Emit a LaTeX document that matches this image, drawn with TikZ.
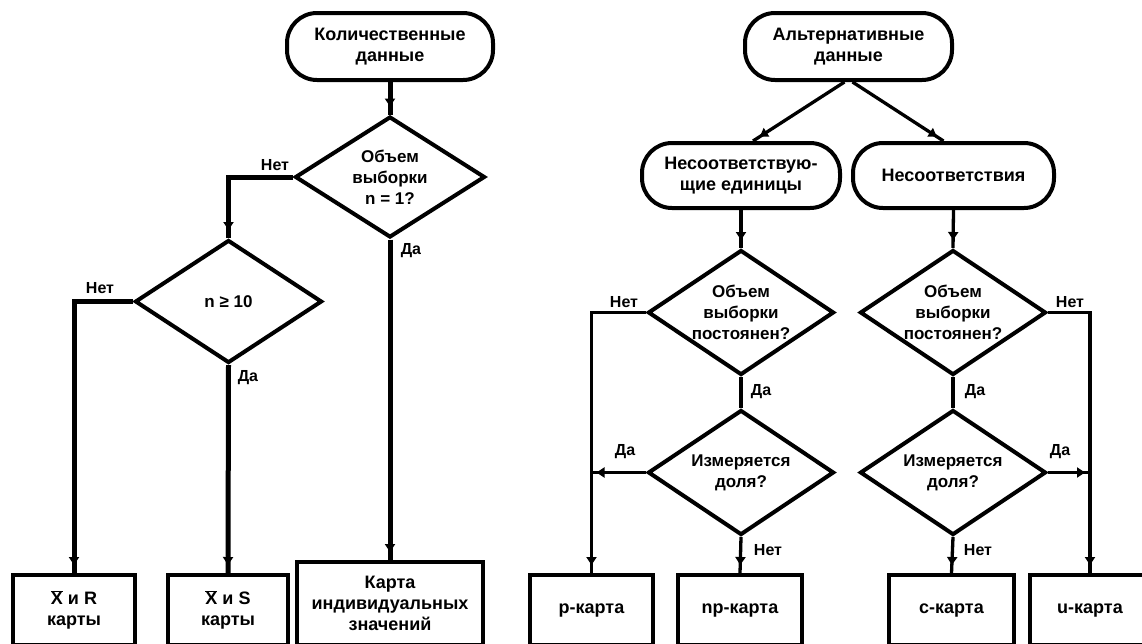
\documentclass[tikz,border=0pt]{standalone}
\usepackage{fontspec}
\setmainfont{Liberation Sans}
\usetikzlibrary{shapes.geometric,arrows.meta,decorations.markings}
\begin{document}
\begin{tikzpicture}[x=1pt,y=-1pt,
  every node/.style={font=\bfseries\fontsize{18}{21}\selectfont, align=center, inner sep=0pt},
  term/.style={draw, line width=4pt, rounded corners=30pt},
  dec/.style={draw, diamond, aspect=1.5, line width=4pt, inner sep=-6pt, font=\bfseries\fontsize{17}{21}\selectfont},
  res/.style={draw, rectangle, line width=4pt},
  lbl/.style={font=\bfseries\fontsize{16}{18}\selectfont},
  lconn/.style={line width=5pt},
  rconn/.style={line width=3.3pt},
  arr/.style={postaction={decorate}, decoration={markings, mark=at position -8pt with {\arrow{Triangle[length=8pt,width=10pt]}}}},
  arrj/.style={postaction={decorate}, decoration={markings, mark=at position -5pt with {\arrow{Triangle[length=8pt,width=10pt]}}}}
]
\useasboundingbox (0,0) rectangle (1142,643);
\clip (0,0) rectangle (1142,643);
\fill[white] (0,0) rectangle (1142,643);

% left part
\node[term, minimum width=206pt, minimum height=67pt] (kol) at (390,46.5) {Количественные\\данные};
\node[dec, minimum width=190pt, minimum height=121pt] (d1) at (390,177) {Объем\\выборки\\n = 1?};
\node[dec, minimum width=187pt, minimum height=123pt] (d2) at (228.5,301.5) {n ≥ 10};
\node[res, minimum width=122pt, minimum height=70pt] (b1) at (74,610) {$\overline{\hbox{X}}$ и R\\карты};
\node[res, minimum width=120pt, minimum height=70pt] (b2) at (228,610) {$\overline{\hbox{X}}$ и S\\карты};
\node[res, minimum width=186pt, minimum height=83pt] (b3) at (390,603.5) {Карта\\индивидуальных\\значений};

\draw[lconn, arr] (kol.south) -- (d1.north);
\draw[lconn, arr] (d1.west) -| (d2.north);
\draw[lconn, arr] (d2.west) -| (b1.north);
\draw[lconn, arr] (d2.south) -- (b2.north);
\draw[lconn, arr] (d1.south) -- (b3.north);

\node[lbl] (ln1) at (275,165) {Нет};
\node[lbl] (ln2) at (100,288) {Нет};
\node[lbl] (ly1) at (411,251) {Да};
\node[lbl] (ly2) at (248,378) {Да};

% right part
\node[term, minimum width=207pt, minimum height=67pt] (alt) at (848.5,46.5) {Альтернативные\\данные};
\node[term, minimum width=198pt, minimum height=65pt] (ch1) at (741,175.5) {Несоответствую-\\щие единицы};
\node[term, minimum width=201pt, minimum height=65pt] (ch2) at (953.5,175.5) {Несоответствия};
\node[dec, minimum width=186pt, minimum height=125pt] (d3) at (741,312.5) {Объем\\выборки\\постоянен?};
\node[dec, minimum width=186pt, minimum height=125pt] (d4) at (953,312.5) {Объем\\выборки\\постоянен?};
\node[dec, minimum width=186pt, minimum height=125pt] (d5) at (741,472.5) {Измеряется\\доля?};
\node[dec, minimum width=186pt, minimum height=125pt] (d6) at (953,472.5) {Измеряется\\доля?};
\node[res, minimum width=123pt, minimum height=70pt] (bp) at (591.5,610) {p-карта};
\node[res, minimum width=124pt, minimum height=70pt] (bnp) at (740,610) {np-карта};
\node[res, minimum width=125pt, minimum height=70pt] (bc) at (951.5,610) {c-карта};
\node[res, minimum width=120pt, minimum height=70pt] (bu) at (1090,610) {u-карта};

\draw[rconn, arr] ([xshift=-4pt]alt.south) -- ([xshift=12pt]ch1.north);
\draw[rconn, arr] ([xshift=4pt]alt.south) -- ([xshift=-10pt]ch2.north);
\draw[rconn, arr] (ch1.south) -- (d3.north);
\draw[rconn, arr] (ch2.south) -- (d4.north);
\draw[rconn] (d3.south) -- (d5.north);
\draw[rconn] (d4.south) -- (d6.north);
\draw[rconn, arr] (d3.west) -| (bp.north);
\draw[rconn, arr] (d4.east) -| (bu.north);
\draw[rconn, arr] (d5.south) -- (bnp.north);
\draw[rconn, arr] (d6.south) -- (bc.north);
\coordinate (jl) at (d5.west -| bp.north);
\coordinate (jr) at (d6.east -| bu.north);
\draw[rconn, arrj] (d5.west) -- (jl);
\draw[rconn, arrj] (d6.east) -- (jr);

\node[lbl] (ln3) at (624,302) {Нет};
\node[lbl] (ln4) at (1070,302) {Нет};
\node[lbl] (ly3) at (761,392) {Да};
\node[lbl] (ly4) at (975,392) {Да};
\node[lbl] (ly5) at (625,452) {Да};
\node[lbl] (ly6) at (1060,452) {Да};
\node[lbl] (ln5) at (768,550) {Нет};
\node[lbl] (ln6) at (978,550) {Нет};
\end{tikzpicture}
\end{document}
